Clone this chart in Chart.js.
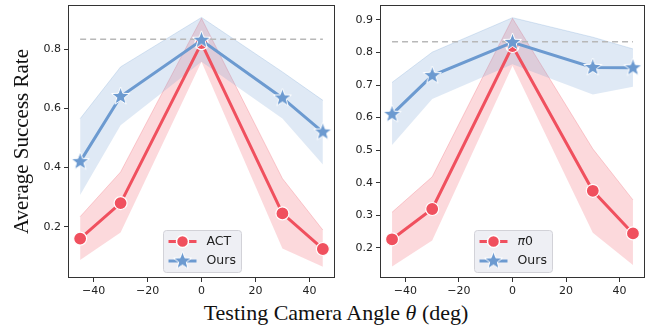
<!DOCTYPE html>
<html>
<head>
<meta charset="utf-8">
<script src="https://cdn.jsdelivr.net/npm/chart.js@4.4.1/dist/chart.umd.min.js"></script>
<style>
    body { margin: 0; background: #fff; }
    .wrap { position: relative; width: 648px; height: 327px; overflow: hidden; }
    .panel { position: absolute; top: 0; height: 300px; }
    #xTitle {
        position: absolute; left: 0; width: 672px; top: 300px;
        text-align: center; font-family: 'Liberation Serif', serif; font-size: 22px; color: #111;
    }
</style>
</head>
<body>
<div class="wrap">
    <div class="panel" style="left:0; width:340px;"><canvas id="chartLeft"></canvas></div>
    <div class="panel" style="left:340px; width:308px;"><canvas id="chartRight"></canvas></div>
    <div id="xTitle">Testing Camera Angle <i>θ</i> (deg)</div>
</div>

<script>
// data
const angles = [-45, -30, 0, 30, 45];
const xTicks = [-40, -20, 0, 20, 40];

const actMean = [0.16, 0.28, 0.82, 0.245, 0.125];
const actLow = [0.088, 0.181, 0.757, 0.127, 0.065];
const actHigh = [0.234, 0.385, 0.904, 0.363, 0.189];
const oursLeftMean = [0.42, 0.64, 0.83, 0.635, 0.52];
const oursLeftLow = [0.307, 0.543, 0.757, 0.566, 0.41];
const oursLeftHigh = [0.565, 0.74, 0.907, 0.723, 0.627];
const yTicksLeft = [0.2, 0.4, 0.6, 0.8];

const pi0Mean = [0.226, 0.319, 0.82, 0.375, 0.244];
const pi0Low = [0.142, 0.222, 0.759, 0.246, 0.147];
const pi0High = [0.309, 0.418, 0.905, 0.504, 0.347];
const oursRightMean = [0.61, 0.729, 0.831, 0.754, 0.753];
const oursRightLow = [0.516, 0.657, 0.764, 0.671, 0.695];
const oursRightHigh = [0.708, 0.801, 0.907, 0.847, 0.811];
const yTicksRight = [0.2, 0.3, 0.4, 0.5, 0.6, 0.7, 0.8, 0.9];

const refLine = 0.833;

const RED = '#F0505E';
const BLUE = '#6C9AD0';
const RED_BAND = 'rgba(240, 80, 94, 0.22)';
const BLUE_BAND = 'rgba(108, 154, 208, 0.22)';

function pts(ys) {
    return angles.map((x, i) => ({ x: x, y: ys[i] }));
}

// filled star marker with white edge
function makeStar(r) {
    const c = document.createElement('canvas');
    const s = Math.ceil(r * 2 + 4);
    c.width = s; c.height = s;
    const ctx = c.getContext('2d');
    ctx.beginPath();
    for (let i = 0; i < 10; i++) {
        const rad = i % 2 === 0 ? r : r * 0.42;
        const a = -Math.PI / 2 + i * Math.PI / 5;
        const px = s / 2 + rad * Math.cos(a);
        const py = s / 2 + rad * Math.sin(a);
        if (i === 0) ctx.moveTo(px, py); else ctx.lineTo(px, py);
    }
    ctx.closePath();
    ctx.fillStyle = BLUE;
    ctx.fill();
    ctx.strokeStyle = '#fff';
    ctx.lineWidth = 1;
    ctx.stroke();
    return c;
}
const starImg = makeStar(9.5);

// frame on all four sides + matplotlib style legend inside the axes
const framePlugin = {
    id: 'frameAndLegend',
    afterDatasetsDraw(chart, args, opts) {
        const { ctx, chartArea } = chart;
        ctx.save();
        ctx.strokeStyle = '#333';
        ctx.lineWidth = 1;
        ctx.strokeRect(chartArea.left + 0.5, chartArea.top + 0.5,
            chartArea.right - chartArea.left - 1, chartArea.bottom - chartArea.top - 1);

        // legend box
        const cx = chart.scales.x.getPixelForValue(0);
        const w = opts.boxWidth, h = 42;
        const bx = Math.round(cx - w / 2) + 0.5, by = chartArea.bottom - 6 - h + 0.5;
        ctx.beginPath();
        ctx.roundRect(bx, by, w, h, 3);
        ctx.fillStyle = 'rgba(236, 237, 243, 0.9)';
        ctx.fill();
        ctx.strokeStyle = '#d2d2d8';
        ctx.stroke();

        const rows = [
            { label: opts.labels[0], color: RED, marker: 'circle' },
            { label: opts.labels[1], color: BLUE, marker: 'star' }
        ];
        rows.forEach((row, i) => {
            const y = by + 11 + i * 19.5;
            const x0 = bx + 5, x1 = bx + 33, xm = (x0 + x1) / 2;
            ctx.strokeStyle = row.color;
            ctx.lineWidth = 3;
            ctx.beginPath();
            ctx.moveTo(x0, y); ctx.lineTo(x1, y);
            ctx.stroke();
            if (row.marker === 'circle') {
                ctx.beginPath();
                ctx.arc(xm, y, 6, 0, Math.PI * 2);
                ctx.fillStyle = RED;
                ctx.fill();
                ctx.strokeStyle = '#fff';
                ctx.lineWidth = 1.5;
                ctx.stroke();
            } else {
                ctx.drawImage(starImg, xm - starImg.width / 2, y - starImg.height / 2);
            }
            ctx.fillStyle = '#222';
            ctx.textBaseline = 'middle';
            const tx = bx + 43;
            if (row.label === 'π0') {
                ctx.font = 'italic 12.5px "DejaVu Sans"';
                ctx.fillText('π', tx, y);
                const pw = ctx.measureText('π').width;
                ctx.font = '12.5px "DejaVu Sans"';
                ctx.fillText('0', tx + pw, y);
            } else {
                ctx.font = '12.5px "DejaVu Sans"';
                ctx.fillText(row.label, tx, y);
            }
        });
        ctx.restore();
    }
};

function buildChart(id, cfg) {
    const datasets = [
        {
            label: cfg.names[1], data: pts(cfg.oursMean),
            borderColor: BLUE, borderWidth: 3, pointStyle: starImg,
            pointRadius: 9, fill: false, tension: 0
        },
        {
            label: cfg.names[0], data: pts(cfg.baseMean),
            borderColor: RED, backgroundColor: RED, borderWidth: 3,
            pointStyle: 'circle', pointRadius: 6.5, pointBorderColor: '#fff',
            pointBorderWidth: 1.2, fill: false, tension: 0
        },
        {
            label: 'ref', data: [{ x: -45, y: refLine }, { x: 45, y: refLine }],
            borderColor: '#b8b8b8', borderWidth: 1.5, borderDash: [6, 4],
            pointRadius: 0, fill: false
        },
        {
            label: 'oursLow', data: pts(cfg.oursLow),
            borderColor: 'rgba(0,0,0,0)', borderWidth: 0, pointRadius: 0, fill: false
        },
        {
            label: 'oursHigh', data: pts(cfg.oursHigh),
            borderColor: 'rgba(108,154,208,0.25)', borderWidth: 1, pointRadius: 0,
            backgroundColor: BLUE_BAND, fill: '-1'
        },
        {
            label: 'baseLow', data: pts(cfg.baseLow),
            borderColor: 'rgba(0,0,0,0)', borderWidth: 0, pointRadius: 0, fill: false
        },
        {
            label: 'baseHigh', data: pts(cfg.baseHigh),
            borderColor: 'rgba(240,80,94,0.25)', borderWidth: 1, pointRadius: 0,
            backgroundColor: RED_BAND, fill: '-1'
        }
    ];

    return new Chart(document.getElementById(id).getContext('2d'), {
        type: 'line',
        data: { datasets: datasets },
        plugins: [framePlugin],
        options: {
            responsive: true,
            maintainAspectRatio: false,
            animation: false,
            layout: {
                autoPadding: false,
                padding: { top: 5, right: cfg.padRight, left: 0, bottom: 0 }
            },
            plugins: {
                legend: { display: false },
                tooltip: { enabled: false },
                frameAndLegend: { labels: cfg.names, boxWidth: 78 }
            },
            scales: {
                x: {
                    type: 'linear', min: -49.5, max: 49.5,
                    afterBuildTicks: s => { s.ticks = xTicks.map(v => ({ value: v })); },
                    afterFit: s => { s.height = 22; s.paddingLeft = 0; s.paddingRight = 0; },
                    border: { display: false },
                    grid: { drawOnChartArea: false, drawTicks: true, tickLength: 4, color: '#333' },
                    ticks: {
                        padding: 3, color: '#222', maxRotation: 0,
                        font: { family: 'DejaVu Sans', size: 11 },
                        callback: v => (v < 0 ? '\u2212' + Math.abs(v) : String(v))
                    }
                },
                y: {
                    type: 'linear', min: cfg.yMin, max: cfg.yMax,
                    afterBuildTicks: s => { s.ticks = cfg.yTicks.map(v => ({ value: v })); },
                    afterFit: s => { s.width = cfg.yWidth; s.paddingTop = 0; s.paddingBottom = 0; },
                    border: { display: false },
                    grid: { drawOnChartArea: false, drawTicks: true, tickLength: 4, color: '#333' },
                    title: {
                        display: cfg.yTitle !== '',
                        text: cfg.yTitle,
                        color: '#111',
                        font: { family: 'Liberation Serif', size: 21 },
                        padding: { top: 10, bottom: 0 }
                    },
                    ticks: {
                        padding: 3, color: '#222',
                        font: { family: 'DejaVu Sans', size: 11 },
                        callback: v => v.toFixed(1)
                    }
                }
            }
        }
    });
}

buildChart('chartLeft', {
    names: ['ACT', 'Ours'],
    baseMean: actMean, baseLow: actLow, baseHigh: actHigh,
    oursMean: oursLeftMean, oursLow: oursLeftLow, oursHigh: oursLeftHigh,
    yMin: 0.027, yMax: 0.949, yTicks: yTicksLeft,
    yWidth: 68, padRight: 5, yTitle: 'Average Success Rate'
});

buildChart('chartRight', {
    names: ['π0', 'Ours'],
    baseMean: pi0Mean, baseLow: pi0Low, baseHigh: pi0High,
    oursMean: oursRightMean, oursLow: oursRightLow, oursHigh: oursRightHigh,
    yMin: 0.107, yMax: 0.946, yTicks: yTicksRight,
    yWidth: 40, padRight: 3, yTitle: ''
});
</script>
</body>
</html>
